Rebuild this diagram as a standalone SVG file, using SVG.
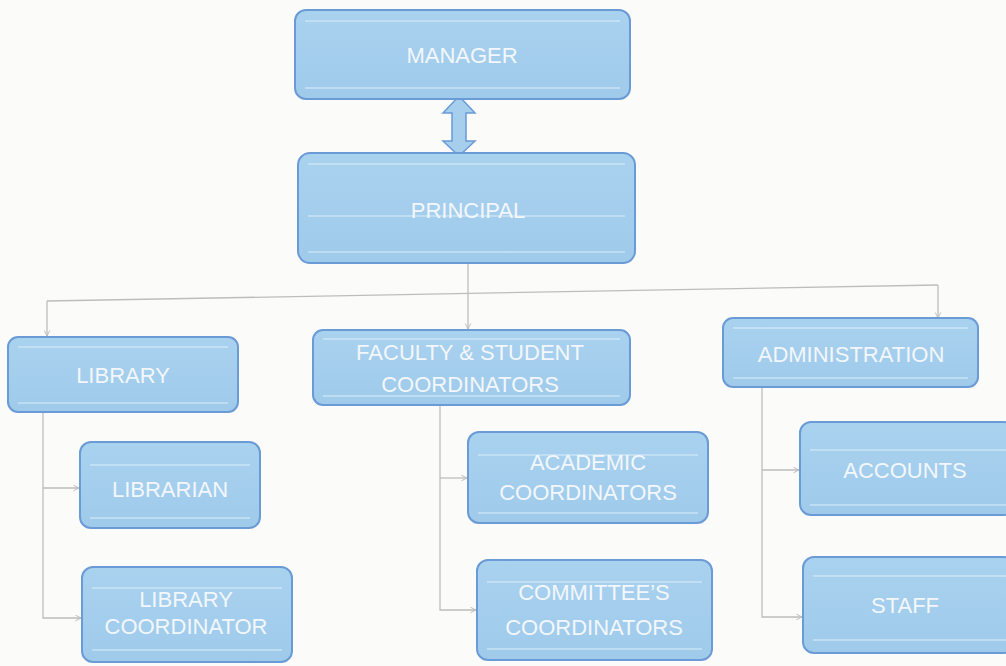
<svg xmlns="http://www.w3.org/2000/svg" width="1006" height="666" viewBox="0 0 1006 666">
<defs>
<marker id="ah" viewBox="0 0 10 10" refX="9" refY="5" markerWidth="7" markerHeight="7" orient="auto" markerUnits="userSpaceOnUse">
<path d="M1,1 L9,5 L1,9" fill="none" stroke="#b9b9b9" stroke-width="1.3"/>
</marker>
<linearGradient id="g" x1="0" y1="0" x2="0" y2="1">
<stop offset="0" stop-color="#a9d2ef"/>
<stop offset="1" stop-color="#9fcaea"/>
</linearGradient>
</defs>
<style>
.box{fill:url(#g);stroke:#6b9bd6;stroke-width:2}
.gl{stroke:#e4f1fb;stroke-width:1.2;opacity:0.9}
.t{font-family:"Liberation Sans",Arial,sans-serif;font-size:22px;fill:#f3f7fb;text-anchor:middle}
.c{fill:none;stroke:#bdbdbd;stroke-width:1.3}
</style>
<rect width="1006" height="666" fill="#fbfbfa"/>
<g id="connectors">
<path class="c" d="M468,263 L468,329" marker-end="url(#ah)"/>
<path class="c" d="M938,285 L47,301"/>
<path class="c" d="M47,301 L47,336" marker-end="url(#ah)"/>
<path class="c" d="M938,285 L938,318" marker-end="url(#ah)"/>
<path class="c" d="M43,412 L43,618 L81,618" marker-end="url(#ah)"/>
<path class="c" d="M43,488 L79,488" marker-end="url(#ah)"/>
<path class="c" d="M440,405 L440,610 L476,610" marker-end="url(#ah)"/>
<path class="c" d="M440,478 L467,478" marker-end="url(#ah)"/>
<path class="c" d="M762,387 L762,617 L802,617" marker-end="url(#ah)"/>
<path class="c" d="M762,470 L799,470" marker-end="url(#ah)"/>
<path d="M459,96 L475,113 L466,113 L466,141 L475,141 L459,156 L443,141 L452,141 L452,113 L443,113 Z" fill="#a6cfee" stroke="#6b9bd6" stroke-width="1.5"/>
</g>
<g id="manager">
<rect class="box" x="295" y="10" width="335" height="89" rx="11"/>
<line class="gl" x1="305" y1="21" x2="620" y2="21"/><line class="gl" x1="305" y1="88" x2="620" y2="88"/>
<text class="t" x="462" y="63">MANAGER</text>
</g>
<g id="principal">
<rect class="box" x="298" y="153" width="337" height="110" rx="12"/>
<line class="gl" x1="308" y1="164" x2="625" y2="164"/><line class="gl" x1="308" y1="216" x2="625" y2="216"/><line class="gl" x1="308" y1="252" x2="625" y2="252"/>
<text class="t" x="468" y="218">PRINCIPAL</text>
</g>
<g id="library">
<rect class="box" x="8" y="337" width="230" height="75" rx="10"/>
<line class="gl" x1="18" y1="347" x2="228" y2="347"/><line class="gl" x1="18" y1="403" x2="228" y2="403"/>
<text class="t" x="123" y="383">LIBRARY</text>
</g>
<g id="faculty">
<rect class="box" x="313" y="330" width="317" height="75" rx="10"/>
<line class="gl" x1="323" y1="339" x2="620" y2="339"/><line class="gl" x1="323" y1="396" x2="620" y2="396"/>
<text class="t" x="470" y="360">FACULTY &amp; STUDENT</text>
<text class="t" x="470" y="392">COORDINATORS</text>
</g>
<g id="administration">
<rect class="box" x="723" y="318" width="255" height="69" rx="10"/>
<line class="gl" x1="733" y1="328" x2="968" y2="328"/><line class="gl" x1="733" y1="378" x2="968" y2="378"/>
<text class="t" x="851" y="362">ADMINISTRATION</text>
</g>
<g id="librarian">
<rect class="box" x="80" y="442" width="180" height="86" rx="11"/>
<line class="gl" x1="90" y1="465" x2="250" y2="465"/><line class="gl" x1="90" y1="518" x2="250" y2="518"/>
<text class="t" x="170" y="497">LIBRARIAN</text>
</g>
<g id="library-coordinator">
<rect class="box" x="82" y="567" width="210" height="95" rx="11"/>
<line class="gl" x1="92" y1="588" x2="282" y2="588"/><line class="gl" x1="92" y1="650" x2="282" y2="650"/>
<text class="t" x="186" y="607">LIBRARY</text>
<text class="t" x="186" y="634">COORDINATOR</text>
</g>
<g id="academic">
<rect class="box" x="468" y="432" width="240" height="91" rx="11"/>
<line class="gl" x1="478" y1="455" x2="698" y2="455"/><line class="gl" x1="478" y1="513" x2="698" y2="513"/>
<text class="t" x="588" y="470">ACADEMIC</text>
<text class="t" x="588" y="500">COORDINATORS</text>
</g>
<g id="committee">
<rect class="box" x="477" y="560" width="235" height="100" rx="11"/>
<line class="gl" x1="487" y1="582" x2="702" y2="582"/><line class="gl" x1="487" y1="649" x2="702" y2="649"/>
<text class="t" x="594" y="600">COMMITTEE’S</text>
<text class="t" x="594" y="635">COORDINATORS</text>
</g>
<g id="accounts">
<rect class="box" x="800" y="422" width="215" height="93" rx="11"/>
<line class="gl" x1="810" y1="450" x2="1006" y2="450"/><line class="gl" x1="810" y1="505" x2="1006" y2="505"/>
<text class="t" x="905" y="478">ACCOUNTS</text>
</g>
<g id="staff">
<rect class="box" x="803" y="557" width="212" height="96" rx="11"/>
<line class="gl" x1="813" y1="576" x2="1006" y2="576"/><line class="gl" x1="813" y1="640" x2="1006" y2="640"/>
<text class="t" x="905" y="613">STAFF</text>
</g>
</svg>
